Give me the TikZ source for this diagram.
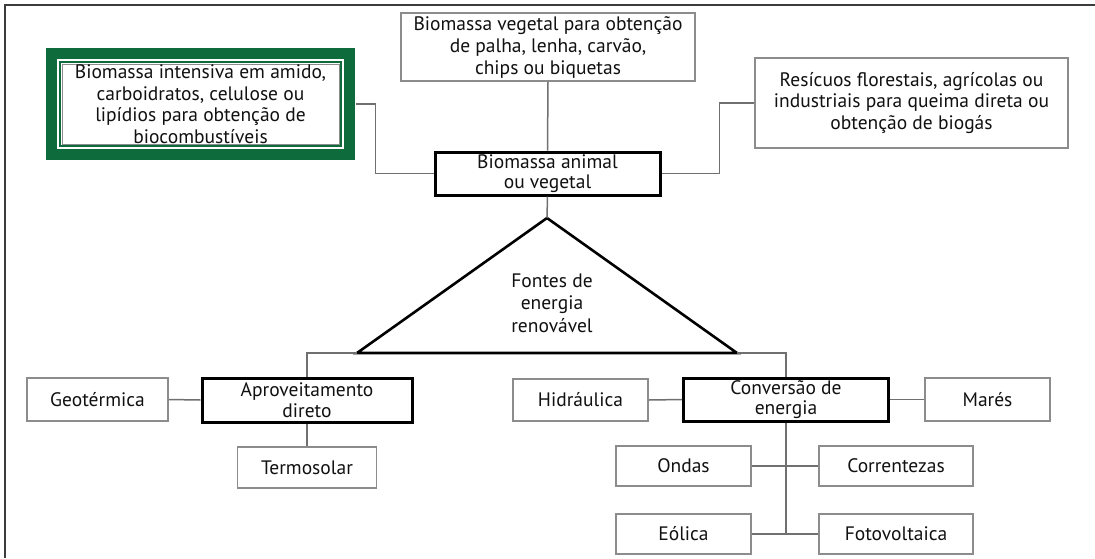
\documentclass[tikz,border=0pt]{standalone}
\usepackage{fontspec}
\setmainfont{PT Sans}
\usetikzlibrary{calc}
\definecolor{frm}{HTML}{3C3C3C}
\definecolor{lnk}{HTML}{707070}
\definecolor{bxd}{HTML}{8C8C8C}
\definecolor{grn}{HTML}{0E6B3B}
\definecolor{txt}{HTML}{111111}
\tikzset{
  box/.style={draw=bxd, line width=1.6pt, fill=white, inner sep=0pt, align=center, text=txt,
    font=\fontsize{19.5}{21.5}\selectfont},
  thickbox/.style={box, draw=black, line width=3pt},
  plain/.style={inner sep=0pt, align=center, text=txt, font=\fontsize{19.5}{22.5}\selectfont},
  link/.style={draw=lnk, line width=1.5pt},
  tri/.style={draw=black, line width=2.6pt, line join=miter},
}
\begin{document}
\begin{tikzpicture}[x=1pt,y=-1pt]
\useasboundingbox (0,0) rectangle (1095,558);
\fill[white] (0,0) rectangle (1095,558);
\draw[frm, line width=2pt] (5,558) -- (5,5) -- (1095,5);

% green framed box
\fill[grn] (46,48) rectangle (355,160);
\fill[white] (57,59) rectangle (344,149);
\fill[grn] (59,61) rectangle (342,147);
\fill[white] (61,63) rectangle (340,145);
\node[box, line width=1pt, minimum width=277pt, minimum height=80pt] (bio) at (200.5,104)
  {Biomassa intensiva em amido,\\carboidratos, celulose ou\\lipídios para obtenção de\\biocombustíveis};

\node[box, minimum width=294pt, minimum height=68pt, font=\fontsize{19.5}{22}\selectfont] (top) at (548,47)
  {Biomassa vegetal para obtenção\\de palha, lenha, carvão,\\chips ou biquetas};
\node[box, minimum width=313pt, minimum height=90pt] (res) at (911.5,103)
  {Resícuos florestais, agrícolas ou\\industriais para queima direta ou\\obtenção de biogás};
\node[thickbox, minimum width=225pt, minimum height=43pt, font=\fontsize{19.5}{20}\selectfont] (cen) at (547.5,173.5)
  {Biomassa animal\\ou vegetal};

% triangle
\coordinate (apex) at (547,218);
\coordinate (bl) at (357,353);
\coordinate (br) at (737,353);
\draw[tri] (apex) -- (bl) -- (br) -- cycle;
\node[plain] (fon) at (552,303) {Fontes de\\energia\\renovável};

% lower left
\node[thickbox, minimum width=210pt, minimum height=44pt, font=\fontsize{19.5}{20.5}\selectfont] (apr) at (307,400)
  {Aproveitamento\\direto};
\node[box, minimum width=141pt, minimum height=43pt] (geo) at (97.5,399.5) {Geotérmica};
\node[box, minimum width=139pt, minimum height=41pt] (ter) at (307,467.5) {Termosolar};

% lower right
\node[thickbox, minimum width=205pt, minimum height=43pt, font=\fontsize{19.5}{19.5}\selectfont] (conv) at (786,399.5)
  {Conversão de\\energia};
\node[box, minimum width=135pt, minimum height=42pt] (hid) at (580.5,400) {Hidráulica};
\node[box, minimum width=125pt, minimum height=43pt] (mar) at (987.5,399.5) {Marés};
\node[box, minimum width=135pt, minimum height=40pt] (ond) at (683.5,466) {Ondas};
\node[box, minimum width=154pt, minimum height=40pt] (cor) at (896,466) {Correntezas};
\node[box, minimum width=135pt, minimum height=40pt] (eol) at (683.5,534) {Eólica};
\node[box, minimum width=154pt, minimum height=40pt] (fot) at (896,534) {Fotovoltaica};

% connectors
\draw[link] (top.south) -- (cen.north);
\draw[link] (bio.east) ++(16,0) -- ++(20,0) |- (cen.west);
\draw[link] (cen.east) -- ++(58,0) |- (res.west);
\draw[link] (cen.south) -- (apex);
\draw[link] (bl) -| (apr.north);
\draw[link] (br) -| (conv.north);
\draw[link] (geo.east) -- (apr.west);
\draw[link] (apr.south) -- (ter.north);
\draw[link] (hid.east) -- (conv.west);
\draw[link] (conv.east) -- (mar.west);
\draw[link] (conv.south) -- (conv.south |- eol.east);
\draw[link] (ond.east) -- (cor.west);
\draw[link] (eol.east) -- (fot.west);
\end{tikzpicture}
\end{document}
